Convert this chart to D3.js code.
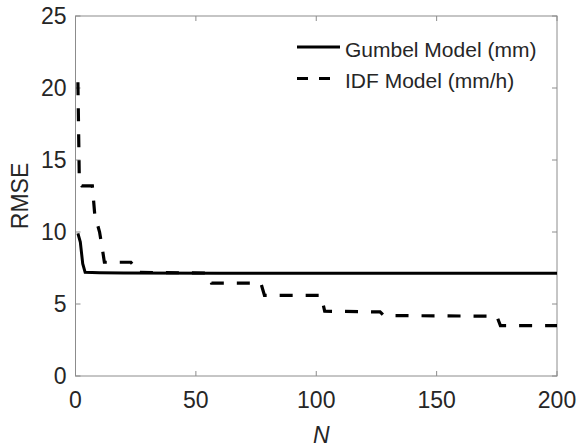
<!DOCTYPE html>
<html>
<head>
<meta charset="utf-8">
<script src="https://cdn.jsdelivr.net/npm/d3@7"></script>
<style>
  body { margin: 0; background: #fff; }
  text { font-family: "Liberation Sans", Arial, sans-serif; fill: #262626; }
</style>
</head>
<body>
<svg id="chart" width="579" height="448"></svg>
<script>
// data
var gumbelN    = [1, 2, 3, 4, 10, 20, 60, 120, 200];
var gumbelRMSE = [9.9, 9.3, 7.8, 7.2, 7.17, 7.15, 7.13, 7.13, 7.13];

var idfN    = [1, 1.6, 2.6, 7, 8, 9, 10, 11, 12, 23, 24.5, 25.5, 55, 56.5, 77, 78.5, 102, 103.5, 126.5, 128, 175, 176.5, 200];
var idfRMSE = [20.4, 13.4, 13.2, 13.2, 11.2, 10.6, 10.0, 9.0, 7.9, 7.9, 7.6, 7.2, 7.15, 6.45, 6.45, 5.6, 5.6, 4.5, 4.45, 4.2, 4.15, 3.5, 3.5];

var xTicks = [0, 50, 100, 150, 200];
var yTicks = [0, 5, 10, 15, 20, 25];
var legendLabels = ["Gumbel Model (mm)", "IDF Model (mm/h)"];

var svg = d3.select("#chart");
var pLeft = 75.5, pRight = 557, pTop = 16, pBottom = 376;

//scales
var x = d3.scaleLinear().domain([0, 200]).range([pLeft, pRight]);
var y = d3.scaleLinear().domain([0, 25]).range([pBottom, pTop]);

// box
svg.append("rect")
    .attr("x", pLeft).attr("y", pTop)
    .attr("width", pRight - pLeft).attr("height", pBottom - pTop)
    .attr("fill", "none").attr("stroke", "#8c8c8c").attr("stroke-width", 1);

var tickLen = 5;
var ticks = svg.append("g").attr("stroke", "#8c8c8c").attr("stroke-width", 1);
xTicks.forEach(function (t) {
    ticks.append("line").attr("x1", x(t)).attr("x2", x(t)).attr("y1", pBottom).attr("y2", pBottom - tickLen);
    ticks.append("line").attr("x1", x(t)).attr("x2", x(t)).attr("y1", pTop).attr("y2", pTop + tickLen);
});
yTicks.forEach(function (t) {
    ticks.append("line").attr("x1", pLeft).attr("x2", pLeft + tickLen).attr("y1", y(t)).attr("y2", y(t));
    ticks.append("line").attr("x1", pRight).attr("x2", pRight - tickLen).attr("y1", y(t)).attr("y2", y(t));
});

// tick labels
svg.append("g").selectAll("text").data(xTicks).enter().append("text")
    .attr("x", d => x(d)).attr("y", pBottom + 32)
    .attr("text-anchor", "middle").attr("font-size", 23)
    .text(d => d);
svg.append("g").selectAll("text").data(yTicks).enter().append("text")
    .attr("x", pLeft - 9).attr("y", d => y(d) + 8)
    .attr("text-anchor", "end").attr("font-size", 23)
    .text(d => d);

// axis labels
svg.append("text")
    .attr("x", (pLeft + pRight) / 2 + 5).attr("y", 443)
    .attr("text-anchor", "middle").attr("font-size", 23).attr("font-style", "italic")
    .text("N");
svg.append("text")
    .attr("transform", "translate(28," + ((pTop + pBottom) / 2) + ") rotate(-90)")
    .attr("text-anchor", "middle").attr("font-size", 23)
    .text("RMSE");

//lines
var line = d3.line().x(d => x(d[0])).y(d => y(d[1]));
var idfData = idfN.map((n, i) => [n, idfRMSE[i]]);
var gumbelData = gumbelN.map((n, i) => [n, gumbelRMSE[i]]);

svg.append("path").datum(idfData)
    .attr("d", line).attr("fill", "none").attr("stroke", "#000")
    .attr("stroke-width", 3.2).attr("stroke-dasharray", "13,13");
svg.append("path").datum(gumbelData)
    .attr("d", line).attr("fill", "none").attr("stroke", "#000")
    .attr("stroke-width", 3);

//legend
var legend = svg.append("g").selectAll("g").data(legendLabels).enter().append("g")
    .attr("transform", (d, i) => "translate(0," + i * 31.5 + ")");
legend.append("line")
    .attr("x1", 297).attr("x2", 340).attr("y1", 47).attr("y2", 47)
    .attr("stroke", "#000").attr("stroke-width", 3)
    .attr("stroke-dasharray", (d, i) => i == 1 ? "11,11" : null);
legend.append("text")
    .attr("x", 345).attr("y", 56.5)
    .attr("font-size", 21)
    .text(d => d);
</script>
</body>
</html>
